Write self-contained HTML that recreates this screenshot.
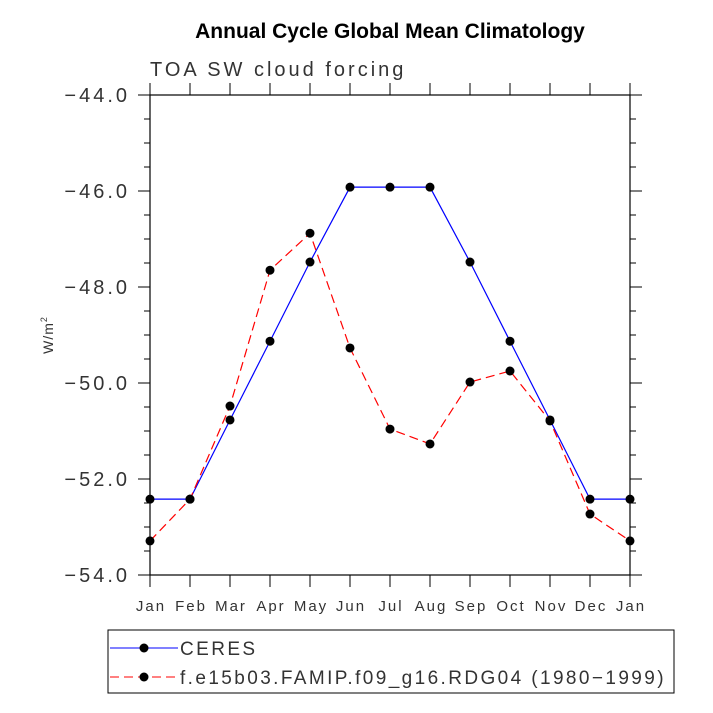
<!DOCTYPE html><html><head><meta charset="utf-8"><style>body{margin:0;background:#fff}svg{display:block;font-family:"Liberation Sans",sans-serif}</style></head><body>
<svg id="c" width="713" height="713">
<text x="390" y="38" text-anchor="middle" font-size="21" font-weight="bold">Annual Cycle Global Mean Climatology</text>
<text x="150" y="76" font-size="20" fill="#333" letter-spacing="3">TOA SW cloud forcing</text>
<text transform="translate(53,335) rotate(-90)" text-anchor="middle" font-size="14" fill="#333" letter-spacing="1">W/m<tspan font-size="9" dy="-6">2</tspan></text>
<g id="ax"></g><g id="ser"></g>
<rect x="108" y="630" width="566" height="63" fill="none" stroke="#000"/>
<g><line x1="110" y1="648" x2="178" y2="648" stroke="#00f"/><circle cx="144" cy="648" r="4.5"/><text x="180" y="655" font-size="19" fill="#333" letter-spacing="2.4">CERES</text></g>
<g><line x1="110" y1="677" x2="178" y2="677" stroke="#f00" stroke-dasharray="9,5"/><circle cx="144" cy="677" r="4.5"/><text x="180" y="684" font-size="19" fill="#333" letter-spacing="2.4">f.e15b03.FAMIP.f09_g16.RDG04 (1980−1999)</text></g>
</svg>
<script>
const months=["Jan","Feb","Mar","Apr","May","Jun","Jul","Aug","Sep","Oct","Nov","Dec","Jan"];
const ceres=[-52.42,-52.42,-50.77,-49.13,-47.48,-45.92,-45.92,-45.92,-47.48,-49.13,-50.77,-52.42,-52.42];
const model=[-53.29,-52.42,-50.48,-47.65,-46.88,-49.27,-50.96,-51.27,-49.98,-49.75,-50.79,-52.73,-53.29];
const yTicks=[-44,-46,-48,-50,-52,-54];
const NS="http://www.w3.org/2000/svg";
const L=150,R=630,T=95,B=575;
const xs=i=>L+i*(R-L)/12, ys=v=>T+(-44-v)*(B-T)/10;
function mk(p,t,a){const e=document.createElementNS(NS,t);for(const k in a)e.setAttribute(k,a[k]);p.appendChild(e);return e;}
const ax=document.getElementById('ax');
const fr=mk(ax,'rect',{x:L,y:T,width:R-L,height:B-T,fill:'none',stroke:'#000','stroke-width':1.2});


for(let v=-44;v>=-54;v-=0.5){const y=ys(v),maj=Math.abs(v%2)<1e-9,l=maj?12:6;
mk(ax,'line',{x1:L-l,y1:y,x2:L,y2:y,stroke:'#000'});mk(ax,'line',{x1:R,y1:y,x2:R+l,y2:y,stroke:'#000'});}
yTicks.forEach(v=>{const t=mk(ax,'text',{x:L-20,y:ys(v)+7,'text-anchor':'end','font-size':20,fill:'#333','letter-spacing':3});t.textContent='−'+Math.abs(v).toFixed(1);

});
months.forEach((m,i)=>{const x=xs(i);mk(ax,'line',{x1:x,y1:B,x2:x,y2:B+12,stroke:'#000'});mk(ax,'line',{x1:x,y1:T-12,x2:x,y2:T,stroke:'#000'});
const t=mk(ax,'text',{x:x+1,y:B+36,'text-anchor':'middle','font-size':15,fill:'#333','letter-spacing':2});t.textContent=m;

});
const sg=document.getElementById('ser');
[[ceres,'#00f',null,'ceres'],[model,'#f00','9,5','model']].forEach(([d,c,da,n])=>{
const pl=mk(sg,'polyline',{points:d.map((v,i)=>xs(i)+','+ys(v)).join(' '),fill:'none',stroke:c,'stroke-width':1.2});
if(da)pl.setAttribute('stroke-dasharray',da);


d.forEach((v,i)=>{const p=mk(sg,'circle',{cx:xs(i),cy:ys(v),r:4.5});

});});
</script></body></html>
